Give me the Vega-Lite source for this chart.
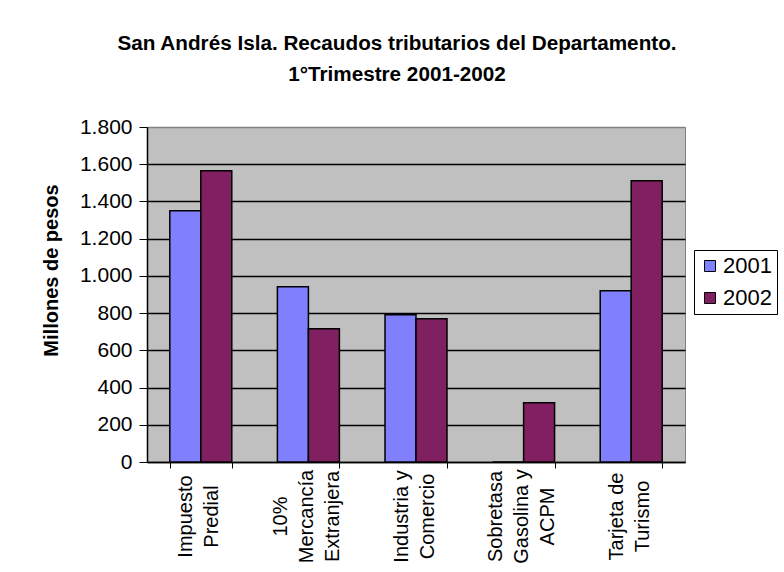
{
  "$schema": "https://vega.github.io/schema/vega-lite/v6.json",
  "width": 538,
  "height": 335,
  "autosize": {"type": "none"},
  "padding": {"left": 147, "top": 127, "right": 99, "bottom": 110},
  "background": "white",
  "title": {
    "text": ["San Andrés Isla. Recaudos tributarios del Departamento.", "1°Trimestre 2001-2002"],
    "anchor": "middle",
    "dx": -19,
    "offset": 30,
    "font": "Liberation Sans",
    "fontSize": 20.7,
    "fontWeight": "bold",
    "lineHeight": 31,
    "color": "black"
  },
  "data": {
    "values": [
      {"concepto": "Impuesto Predial", "anio": "2001", "valor": 1350},
      {"concepto": "Impuesto Predial", "anio": "2002", "valor": 1565},
      {"concepto": "10% Mercancía Extranjera", "anio": "2001", "valor": 942},
      {"concepto": "10% Mercancía Extranjera", "anio": "2002", "valor": 716},
      {"concepto": "Industria y Comercio", "anio": "2001", "valor": 791},
      {"concepto": "Industria y Comercio", "anio": "2002", "valor": 770},
      {"concepto": "Sobretasa Gasolina y ACPM", "anio": "2001", "valor": 0},
      {"concepto": "Sobretasa Gasolina y ACPM", "anio": "2002", "valor": 319},
      {"concepto": "Tarjeta de Turismo", "anio": "2001", "valor": 920},
      {"concepto": "Tarjeta de Turismo", "anio": "2002", "valor": 1511}
    ]
  },
  "mark": {"type": "bar", "stroke": "black", "strokeWidth": 1.5},
  "encoding": {
    "x": {
      "field": "concepto",
      "type": "nominal",
      "sort": null,
      "scale": {"paddingInner": 0.424, "paddingOuter": 0.212},
      "axis": {
        "title": null,
        "labelAngle": -90,
        "labelAlign": "center",
        "labelBaseline": "middle",
        "labelPadding": 48,
        "labelLineHeight": 26,
        "labelOffset": {"condition": {"test": "datum.value == '10% Mercancía Extranjera' || datum.value == 'Sobretasa Gasolina y ACPM'", "value": -28}, "value": -15},
        "labelFont": "Liberation Sans",
        "labelFontSize": 20,
        "labelColor": "black",
        "tickBand": "extent",
        "tickSize": 6,
        "tickColor": "black",
        "domainColor": "black",
        "domainWidth": 1.5,
        "labelExpr": "datum.value == 'Impuesto Predial' ? ['Impuesto', 'Predial'] : datum.value == '10% Mercancía Extranjera' ? ['10%', 'Mercancía', 'Extranjera'] : datum.value == 'Industria y Comercio' ? ['Industria y', 'Comercio'] : datum.value == 'Sobretasa Gasolina y ACPM' ? ['Sobretasa', 'Gasolina y', 'ACPM'] : datum.value == 'Tarjeta de Turismo' ? ['Tarjeta de', 'Turismo'] : ''"
      }
    },
    "xOffset": {"field": "anio", "type": "nominal"},
    "y": {
      "field": "valor",
      "type": "quantitative",
      "scale": {"domain": [0, 1800], "nice": false},
      "axis": {
        "title": "Millones de pesos",
        "titleFont": "Liberation Sans",
        "titleFontSize": 20,
        "titleFontWeight": "bold",
        "titleColor": "black",
        "titlePadding": 18,
        "titleY": 143,
        "values": [0, 200, 400, 600, 800, 1000, 1200, 1400, 1600, 1800],
        "format": ",.0f",
        "labelFont": "Liberation Sans",
        "labelFontSize": 21,
        "labelColor": "black",
        "labelPadding": 7,
        "tickSize": 8,
        "tickColor": "black",
        "domainColor": "black",
        "domainWidth": 1.5,
        "grid": true,
        "gridColor": {"condition": {"test": "datum.value == 1800", "value": "#808080"}, "value": "black"},
        "gridWidth": 1.5
      }
    },
    "fill": {
      "field": "anio",
      "type": "nominal",
      "scale": {"domain": ["2001", "2002"], "range": ["#8080FF", "#802060"]},
      "legend": {
        "title": null,
        "orient": "none",
        "legendX": 547,
        "legendY": 123,
        "strokeColor": "black",
        "padding": 5,
        "symbolType": "square",
        "symbolSize": 121,
        "symbolStrokeColor": "black",
        "symbolStrokeWidth": 1,
        "labelFont": "Liberation Sans",
        "labelFontSize": 22,
        "labelColor": "black",
        "labelOffset": 2,
        "rowPadding": 10
      }
    }
  },
  "config": {
    "locale": {"number": {"decimal": ",", "thousands": ".", "grouping": [3], "currency": ["$", ""]}},
    "view": {"fill": "#C0C0C0", "stroke": "#808080", "strokeWidth": 1}
  }
}
